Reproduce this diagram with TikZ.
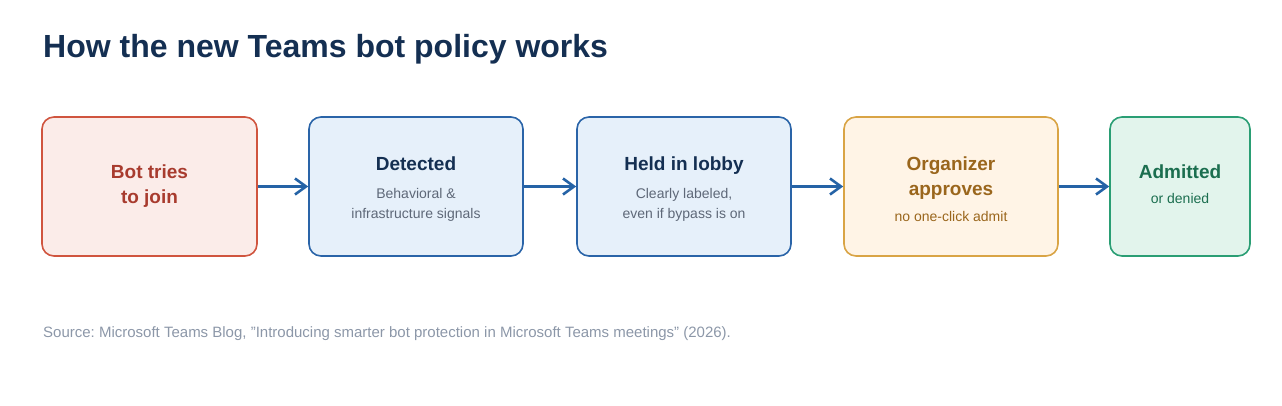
\documentclass[tikz,border=0pt]{standalone}
\usepackage{fontspec}
\setmainfont{Liberation Sans}
\usepackage{xcolor}
\usetikzlibrary{arrows.meta}

\definecolor{titlenavy}{HTML}{142F52}
\definecolor{flowblue}{HTML}{2563A6}
\definecolor{notegrey}{HTML}{5E6878}
\definecolor{srcgrey}{HTML}{8C97A8}
\definecolor{botfill}{HTML}{FBECE9}
\definecolor{botline}{HTML}{D0553F}
\definecolor{bottext}{HTML}{A83B2E}
\definecolor{detfill}{HTML}{E6F0FA}
\definecolor{detline}{HTML}{2A64A8}
\definecolor{orgfill}{HTML}{FFF4E6}
\definecolor{orgline}{HTML}{D9A445}
\definecolor{orgtext}{HTML}{9A661C}
\definecolor{admfill}{HTML}{E2F4EC}
\definecolor{admline}{HTML}{2A9E74}
\definecolor{admtext}{HTML}{1B6E4F}

\begin{document}
\frenchspacing
\begin{tikzpicture}[x=1pt,y=-1pt,>={Straight Barb[length=11pt,width=16pt]}]
  \useasboundingbox (0,0) rectangle (1282,405);
  \tikzset{
    stepbox/.style={draw,rounded corners=12pt,line width=1.6pt,minimum width=214pt,minimum height=139pt,inner sep=0pt},
    flow/.style={->,draw=flowblue,line width=2.6pt},
    head/.style={font=\fontsize{19}{25}\selectfont\bfseries,align=center,anchor=base,inner sep=0pt},
    note/.style={font=\fontsize{14}{20}\selectfont,align=center,anchor=base,inner sep=0pt}
  }
  \node[anchor=base west,inner sep=0pt,text=titlenavy,font=\fontsize{32}{38}\selectfont\bfseries] (title) at (43,57) {How the new Teams bot policy works};

  \node[stepbox,fill=botfill,draw=botline,minimum width=215pt] (bot) at (149.5,186.5) {};
  \node[stepbox,fill=detfill,draw=detline] (det) at (416,186.5) {};
  \node[stepbox,fill=detfill,draw=detline] (lobby) at (684,186.5) {};
  \node[stepbox,fill=orgfill,draw=orgline] (org) at (951,186.5) {};
  \node[stepbox,fill=admfill,draw=admline,minimum width=140pt] (adm) at (1180,186.5) {};

  % base of a two-line node = its last line
  \node[head,text=bottext] (bothead) at (149.5,203) {Bot tries\\to join};
  \node[head,text=titlenavy] (dethead) at (416,170) {Detected};
  \node[note,text=notegrey] (detnote) at (416,218) {Behavioral \&\\infrastructure signals};
  \node[head,text=titlenavy] (lobbyhead) at (684,170) {Held in lobby};
  \node[note,text=notegrey] (lobbynote) at (684,218) {Clearly labeled,\\even if bypass is on};
  \node[head,text=orgtext] (orghead) at (951,195) {Organizer\\approves};
  \node[note,text=orgtext] (orgnote) at (951,221) {no one-click admit};
  \node[head,text=admtext] (admhead) at (1180,178) {Admitted};
  \node[note,text=admtext] (admnote) at (1180,203) {or denied};

  \draw[flow] (bot) -- (det);
  \draw[flow] (det) -- (lobby);
  \draw[flow] (lobby) -- (org);
  \draw[flow] (org) -- (adm);

  \node[anchor=base west,inner sep=0pt,text=srcgrey,font=\fontsize{15}{18}\selectfont] (source) at (43,337) {Source: Microsoft Teams Blog, \symbol{34}Introducing smarter bot protection in Microsoft Teams meetings\symbol{34} (2026).};
\end{tikzpicture}
\end{document}
